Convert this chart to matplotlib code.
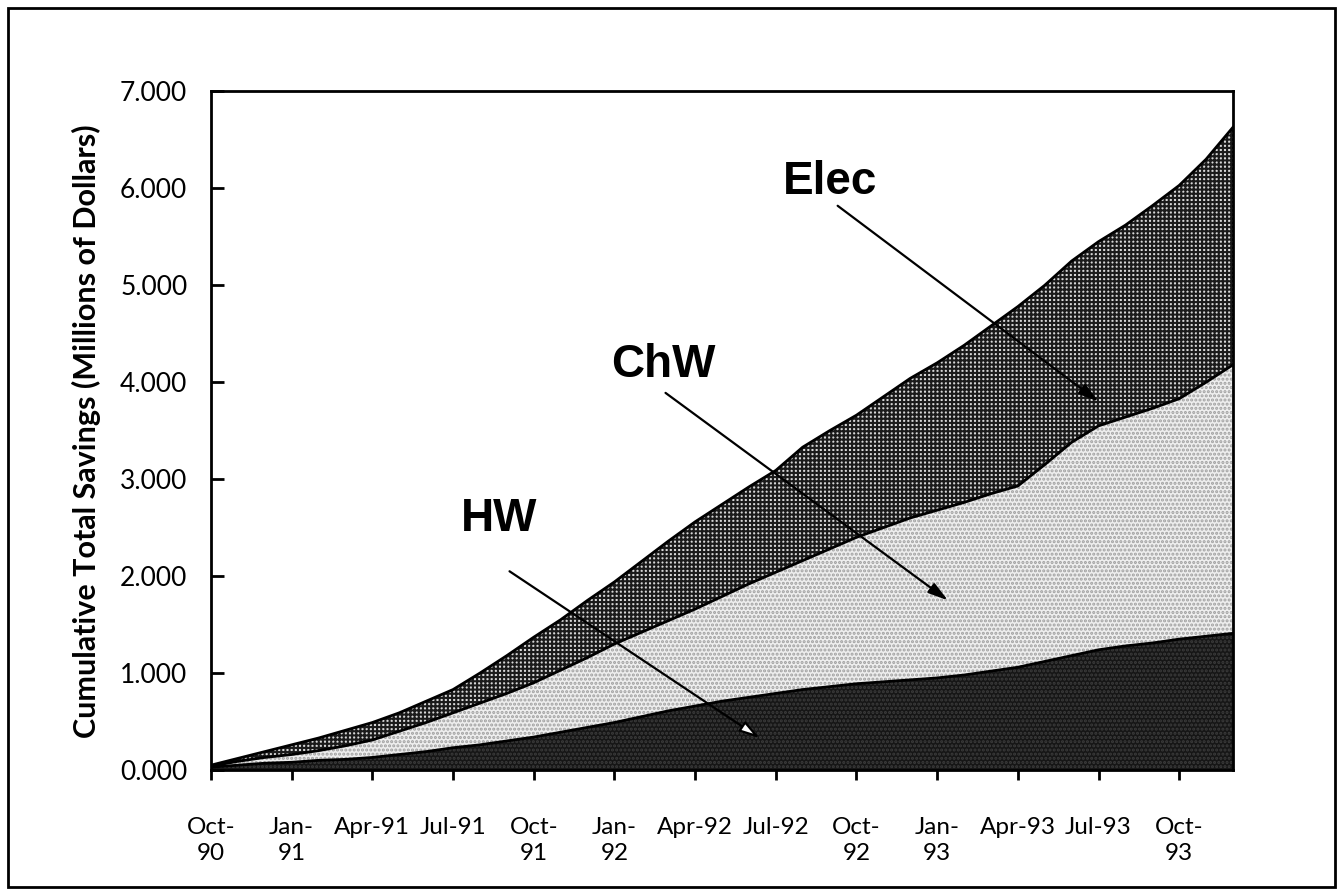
import matplotlib.pyplot as plt
import numpy as np
from matplotlib.patches import Rectangle

# monthly, Oct-90 .. Dec-93 (cumulative savings, millions of dollars)
months = ['Oct-90', 'Nov-90', 'Dec-90', 'Jan-91', 'Feb-91', 'Mar-91', 'Apr-91', 'May-91',
          'Jun-91', 'Jul-91', 'Aug-91', 'Sep-91', 'Oct-91', 'Nov-91', 'Dec-91', 'Jan-92',
          'Feb-92', 'Mar-92', 'Apr-92', 'May-92', 'Jun-92', 'Jul-92', 'Aug-92', 'Sep-92',
          'Oct-92', 'Nov-92', 'Dec-92', 'Jan-93', 'Feb-93', 'Mar-93', 'Apr-93', 'May-93',
          'Jun-93', 'Jul-93', 'Aug-93', 'Sep-93', 'Oct-93', 'Nov-93', 'Dec-93']

hw = [0.03, 0.05, 0.07, 0.08, 0.10, 0.11, 0.13, 0.16, 0.19, 0.23, 0.26, 0.30, 0.34,
      0.39, 0.44, 0.49, 0.55, 0.61, 0.66, 0.71, 0.75, 0.79, 0.83, 0.86, 0.89, 0.91,
      0.93, 0.95, 0.98, 1.02, 1.06, 1.12, 1.18, 1.24, 1.28, 1.31, 1.35, 1.38, 1.41]
chw = [0.01, 0.04, 0.06, 0.08, 0.10, 0.14, 0.18, 0.24, 0.30, 0.36, 0.43, 0.49, 0.56,
       0.64, 0.72, 0.81, 0.87, 0.93, 1.00, 1.08, 1.17, 1.25, 1.33, 1.42, 1.51, 1.59,
       1.67, 1.73, 1.78, 1.83, 1.87, 2.03, 2.20, 2.31, 2.36, 2.42, 2.48, 2.62, 2.77]
elec = [0.01, 0.03, 0.06, 0.10, 0.13, 0.16, 0.18, 0.19, 0.22, 0.24, 0.31, 0.39, 0.47,
        0.52, 0.59, 0.64, 0.73, 0.82, 0.90, 0.95, 1.00, 1.05, 1.17, 1.22, 1.26, 1.35,
        1.44, 1.52, 1.62, 1.73, 1.85, 1.85, 1.87, 1.90, 1.98, 2.09, 2.20, 2.30, 2.45]

tick_idx = list(range(0, 39, 3))
tick_labels = ['Oct-\n90', 'Jan-\n91', 'Apr-91', 'Jul-91', 'Oct-\n91', 'Jan-\n92', 'Apr-92',
               'Jul-92', 'Oct-\n92', 'Jan-\n93', 'Apr-93', 'Jul-93', 'Oct-\n93']

plt.rcParams['font.family'] = ['Lato', 'DejaVu Sans']
plt.rcParams['hatch.linewidth'] = 1.5

fig = plt.figure(figsize=(13.43, 8.93), dpi=100)
ax = fig.add_axes([0.1571, 0.1377, 0.761, 0.760])

x = np.arange(len(months))
h_top = np.array(hw)
c_top = h_top + np.array(chw)
t_top = c_top + np.array(elec)

ax.fill_between(x, 0, h_top, facecolor='#161616', edgecolor='#3c3c3c', hatch='....', lw=0)
ax.fill_between(x, h_top, c_top, facecolor='#eeeeee', edgecolor='#a0a0a0', hatch='....', lw=0)
ax.fill_between(x, c_top, t_top, facecolor='#d6d6d6', edgecolor='#1a1a1a', hatch='++++', lw=0)
for top in (h_top, c_top, t_top):
    ax.plot(x, top, color='black', lw=2)

ax.set_xlim(0, 38)
ax.set_ylim(0, 7)
ax.set_yticks(np.arange(0, 8, 1))
ax.set_yticklabels(['%.3f' % v for v in range(8)], fontsize=19)
ax.set_xticks(tick_idx)
ax.set_xticklabels(tick_labels, fontsize=17.5, linespacing=1.25)
ax.tick_params(axis='y', direction='in', length=9, width=2, pad=17)
ax.tick_params(axis='x', direction='out', length=7, width=2, pad=27)
for s in ax.spines.values():
    s.set_linewidth(2)
ax.set_ylabel('Cumulative Total Savings (Millions of Dollars)', fontsize=22,
              fontweight='bold', labelpad=14)

lab = dict(fontsize=33, fontweight='bold', family=['Liberation Sans', 'DejaVu Sans'],
           ha='center', va='center')
ax.text(23.0, 6.06, 'Elec', **lab)
ax.text(16.8, 4.18, 'ChW', **lab)
ax.text(10.7, 2.59, 'HW', **lab)

arr = dict(arrowstyle='-|>,head_length=1.2,head_width=0.35', lw=1.6, color='black',
           shrinkA=0, shrinkB=0)
ax.annotate('', xy=(33.0, 3.80), xytext=(23.3, 5.82), arrowprops=arr)
ax.annotate('', xy=(27.4, 1.75), xytext=(16.9, 3.89), arrowprops=arr)
ax.annotate('', xy=(20.4, 0.33), xytext=(11.1, 2.05),
            arrowprops=dict(arrowstyle='-|>,head_length=1.2,head_width=0.35', lw=1.6,
                            fc='white', ec='black', shrinkA=0, shrinkB=0))

fig.patches.append(Rectangle((8 / 1343, 6 / 893), 1327 / 1343, 879 / 893,
                             transform=fig.transFigure, fill=False, lw=2, ec='black'))

fig.savefig('out.png', dpi=100)
